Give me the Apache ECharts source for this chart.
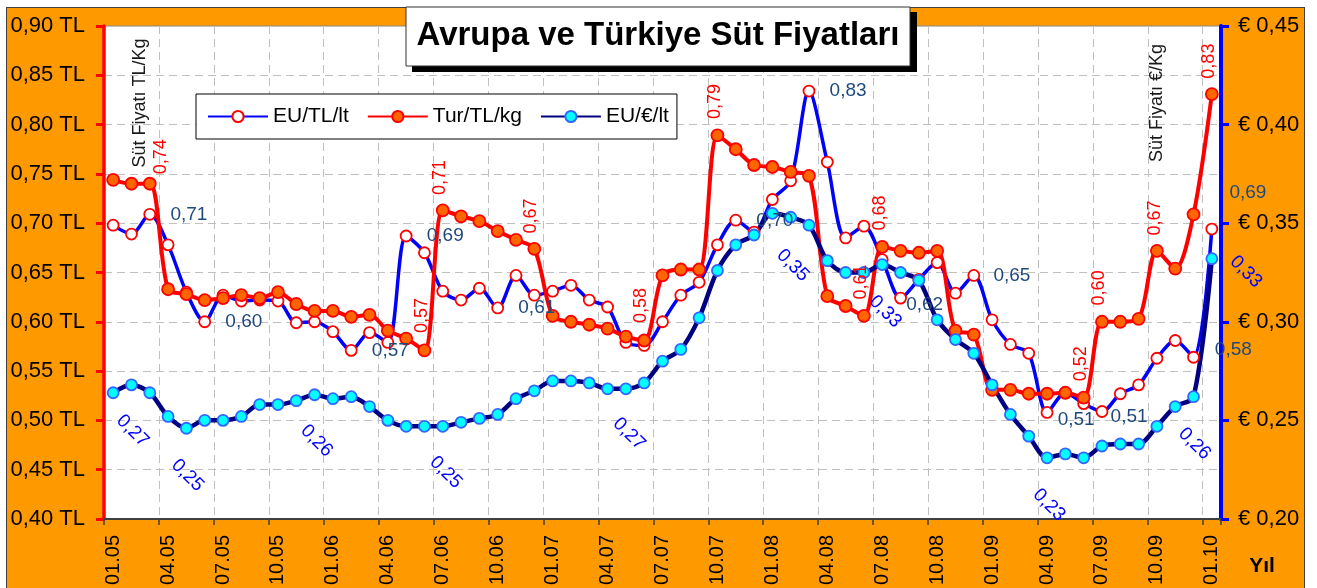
<!DOCTYPE html>
<html>
<head>
<meta charset="utf-8">
<title>Avrupa ve Türkiye Süt Fiyatları</title>
<script src="https://cdn.jsdelivr.net/npm/echarts@6/dist/echarts.min.js"></script>
<style>
html, body { margin: 0; padding: 0; background: #fff; width: 1317px; height: 588px; overflow: hidden; }
#frame { position: absolute; left: 6px; top: 7px; width: 1297px; height: 600px; background: #FF9900; border: 1px solid #404040; }
#main { position: absolute; left: 0; top: 0; width: 1317px; height: 588px; }
</style>
</head>
<body>
<div id="frame"></div>
<div id="main"></div>
<script>
// aylar (ay.yil)
var months = [
    '01.05','02.05','03.05','04.05','05.05','06.05','07.05','08.05','09.05','10.05','11.05','12.05',
    '01.06','02.06','03.06','04.06','05.06','06.06','07.06','08.06','09.06','10.06','11.06','12.06',
    '01.07','02.07','03.07','04.07','05.07','06.07','07.07','08.07','09.07','10.07','11.07','12.07',
    '01.08','02.08','03.08','04.08','05.08','06.08','07.08','08.08','09.08','10.08','11.08','12.08',
    '01.09','02.09','03.09','04.09','05.09','06.09','07.09','08.09','09.09','10.09','11.09','12.09',
    '01.10'
];
// EU/TL/lt
var euTL = [
    0.698,0.689,0.709,0.678,0.630,0.600,0.627,0.621,0.622,0.621,
    0.599,0.600,0.590,0.571,0.589,0.579,0.687,0.670,0.631,0.622,
    0.634,0.614,0.647,0.627,0.631,0.637,0.622,0.615,0.579,0.576,
    0.600,0.627,0.640,0.678,0.703,0.691,0.724,0.743,0.834,0.762,
    0.685,0.697,0.663,0.624,0.643,0.660,0.629,0.647,0.602,0.577,
    0.568,0.508,0.528,0.517,0.509,0.527,0.536,0.563,0.581,0.564,
    0.694
];
// Tur/TL/kg
var turTL = [
    0.744,0.740,0.740,0.633,0.628,0.622,0.624,0.627,0.624,0.630,
    0.618,0.611,0.611,0.605,0.607,0.591,0.583,0.571,0.713,0.707,
    0.702,0.692,0.683,0.674,0.606,0.600,0.597,0.593,0.585,0.581,
    0.647,0.653,0.653,0.789,0.775,0.759,0.757,0.752,0.748,0.626,
    0.616,0.606,0.676,0.672,0.670,0.672,0.591,0.587,0.531,0.531,
    0.527,0.527,0.528,0.523,0.600,0.600,0.603,0.672,0.654,0.709,
    0.831
];
// EU/€/lt (sag eksen)
var euEUR = [
    0.264,0.268,0.264,0.252,0.246,0.250,0.250,0.252,0.258,0.258,
    0.260,0.263,0.261,0.262,0.257,0.250,0.247,0.247,0.247,0.249,
    0.251,0.253,0.261,0.265,0.270,0.270,0.269,0.266,0.266,0.269,
    0.280,0.286,0.302,0.326,0.339,0.344,0.355,0.353,0.349,0.331,
    0.325,0.325,0.329,0.325,0.321,0.301,0.291,0.284,0.268,0.253,
    0.242,0.231,0.233,0.231,0.237,0.238,0.238,0.247,0.257,0.262,
    0.332
];
var seriesNames = ['EU/TL/lt', 'Tur/TL/kg', 'EU/€/lt'];

// etiket gosterilen noktalar: index -> [dx, dy] (nokta merkezine gore)
var euTLMarks = {2:[39,0], 5:[39,0], 13:[39,0], 16:[39,0], 21:[39,0], 34:[39,0], 38:[39,0],
    43:[24,7], 47:[38,0], 51:[29,7], 54:[27,5], 58:[58,9], 60:[36,-36]};
var turMarks = {2:[11,-27], 17:[-3,-35], 18:[-3,-33], 23:[-3,-33], 29:[-3,-35], 33:[-3,-34],
    41:[-3,-34], 42:[-2,-34], 53:[-3,-34], 54:[-3,-34], 57:[-2,-33], 60:[-3,-33]};
var eurMarks = {1:[1,46], 4:[1,47], 11:[2,46], 18:[3,46], 28:[3,45], 37:[2,48],
    42:[3,47], 51:[2,47], 59:[1,47], 60:[34,13]};

var font = '"Liberation Sans", Arial, sans-serif';
function fmt(v) { return v.toFixed(2).replace('.', ','); }

function withLabels(values, marks, size) {
    var r = size / 2 + 1;
    return values.map(function (v, i) {
        var m = marks[i];
        if (!m) return v;
        return { value: v, label: { show: true, position: [r + m[0], r + m[1]] } };
    });
}

var chart = echarts.init(document.getElementById('main'));
var option = {
    animation: false,
    backgroundColor: 'transparent',
    textStyle: { fontFamily: font },
    grid: {
        left: 104, right: 96, top: 26, bottom: 69,
        show: true, backgroundColor: '#fff', borderColor: '#888', borderWidth: 1
    },
    legend: {
        data: seriesNames,
        left: 196, top: 94,
        itemWidth: 60, itemHeight: 14, itemGap: 18,
        padding: [12, 8, 12, 11],
        backgroundColor: '#fff', borderColor: '#000', borderWidth: 1,
        textStyle: { color: '#000', fontSize: 21, fontFamily: font }
    },
    xAxis: {
        type: 'category',
        data: months,
        boundaryGap: true,
        axisLine: { lineStyle: { color: '#404040', width: 2 } },
        axisTick: { show: true, interval: 2, length: 6, lineStyle: { color: '#404040', width: 1.5 } },
        axisLabel: { interval: 2, rotate: 90, margin: 16, color: '#000', fontSize: 20, fontFamily: font },
        splitLine: { show: true, interval: 2, lineStyle: { color: '#C0C0C0', type: [8, 5], width: 1 } }
    },
    yAxis: [{
        type: 'value', position: 'left',
        min: 0.4, max: 0.9, interval: 0.05,
        axisLine: { show: true, lineStyle: { color: '#FF0000', width: 3.5 } },
        axisTick: { show: true, length: 8, lineStyle: { color: '#FF0000', width: 3 } },
        axisLabel: { margin: 19, color: '#000', fontSize: 22, fontFamily: font,
            formatter: function (v) { return fmt(v) + ' TL'; } },
        splitLine: { show: true, lineStyle: { color: '#C0C0C0', type: [8, 5], width: 1 } }
    }, {
        type: 'value', position: 'right',
        min: 0.2, max: 0.45, interval: 0.05,
        axisLine: { show: true, lineStyle: { color: '#0000FF', width: 4 } },
        axisTick: { show: true, length: 8, lineStyle: { color: '#0000FF', width: 3 } },
        axisLabel: { margin: 17, color: '#000', fontSize: 22, fontFamily: font,
            formatter: function (v) { return '€ ' + fmt(v); } },
        splitLine: { show: false }
    }],
    series: [{
        name: seriesNames[0],
        type: 'line', yAxisIndex: 0,
        smooth: 0.3, symbol: 'circle', symbolSize: 11, showAllSymbol: true,
        lineStyle: { color: '#0000FF', width: 3.5 },
        itemStyle: { color: '#fff', borderColor: '#FF0000', borderWidth: 1.8 },
        label: { show: false, color: '#1F497D', fontSize: 19, fontFamily: font,
            align: 'center', verticalAlign: 'middle',
            formatter: function (p) { return fmt(p.value); } },
        data: withLabels(euTL, euTLMarks, 11)
    }, {
        name: seriesNames[1],
        type: 'line', yAxisIndex: 0,
        smooth: 0.3, symbol: 'circle', symbolSize: 12, showAllSymbol: true,
        lineStyle: { color: '#FF0000', width: 4 },
        itemStyle: { color: '#FF6600', borderColor: '#FF0000', borderWidth: 1.8 },
        label: { show: false, color: '#FF0000', fontSize: 18, fontFamily: font, rotate: 90,
            align: 'center', verticalAlign: 'middle',
            formatter: function (p) { return fmt(p.value); } },
        data: withLabels(turTL, turMarks, 12)
    }, {
        name: seriesNames[2],
        type: 'line', yAxisIndex: 1,
        smooth: 0.3, symbol: 'circle', symbolSize: 11, showAllSymbol: true,
        lineStyle: { color: '#000080', width: 4.5 },
        itemStyle: { color: '#00FFFF', borderColor: '#3366FF', borderWidth: 1.8 },
        label: { show: false, color: '#0000FF', fontSize: 19, fontFamily: font, rotate: -45,
            align: 'center', verticalAlign: 'middle',
            formatter: function (p) { return fmt(p.value); } },
        data: withLabels(euEUR, eurMarks, 11)
    }],
    graphic: [
        // baslik kutusu + golge
        { type: 'rect', shape: { x: 412, y: 12, width: 505, height: 60 }, style: { fill: '#000' }, z: 10 },
        { type: 'rect', shape: { x: 406, y: 7, width: 504, height: 59 },
          style: { fill: '#fff', stroke: '#333', lineWidth: 1 }, z: 11 },
        { type: 'text', x: 658, y: 36, z: 12,
          style: { text: 'Avrupa ve Türkiye Süt Fiyatları', font: 'bold 33px ' + font,
                   fill: '#000', textAlign: 'center', textVerticalAlign: 'middle' } },
        // eksen basliklari
        { type: 'text', x: 140, y: 103, rotation: Math.PI / 2, z: 12,
          style: { text: 'Süt Fiyatı TL/Kg', font: '18px ' + font, fill: '#1a1a1a',
                   textAlign: 'center', textVerticalAlign: 'middle' } },
        { type: 'text', x: 1157, y: 103, rotation: Math.PI / 2, z: 12,
          style: { text: 'Süt Fiyatı €/Kg', font: '18px ' + font, fill: '#1a1a1a',
                   textAlign: 'center', textVerticalAlign: 'middle' } },
        { type: 'text', x: 1262, y: 566, z: 12,
          style: { text: 'Yıl', font: 'bold 21px ' + font, fill: '#000',
                   textAlign: 'center', textVerticalAlign: 'middle' } }
    ]
};
chart.setOption(option);
</script>
</body>
</html>
